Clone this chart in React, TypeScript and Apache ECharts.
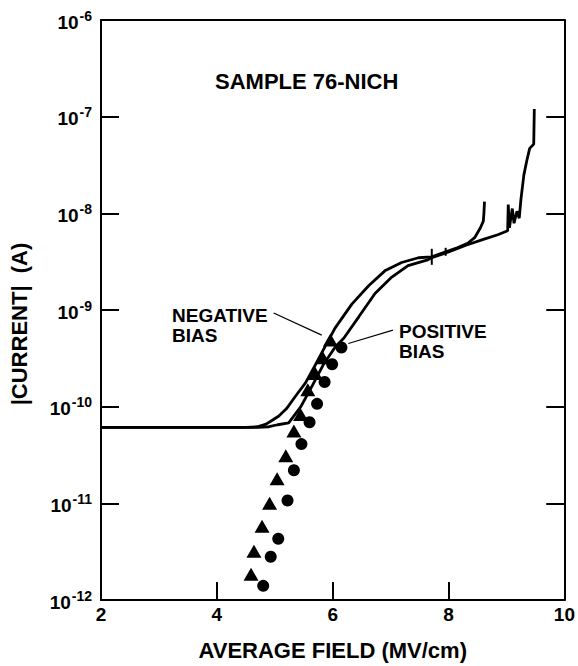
import React, { useEffect, useRef } from "react";
import * as echarts from "echarts";

// |current| (A) versus average field (MV/cm)
const negativeBiasCurve: [number, number][] = [
  [2.0, 6.1e-11], [4.5, 6.1e-11], [4.7, 6.2e-11], [4.85, 6.6e-11], [4.95, 7.2e-11],
  [5.07, 8.0e-11], [5.2, 9.5e-11], [5.36, 1.29e-10], [5.53, 1.76e-10], [5.7, 2.7e-10],
  [5.87, 4.2e-10], [6.04, 6.5e-10], [6.33, 1.15e-9], [6.62, 1.78e-9], [6.9, 2.54e-9],
  [7.19, 3.1e-9], [7.48, 3.47e-9], [7.71, 3.55e-9], [7.95, 4.0e-9], [8.15, 4.4e-9],
  [8.33, 4.9e-9], [8.45, 5.6e-9], [8.55, 7.1e-9], [8.6, 8.3e-9], [8.61, 1.0e-8],
  [8.62, 1.32e-8],
];

const positiveBiasCurve: [number, number][] = [
  [2.0, 6.1e-11], [4.7, 6.1e-11], [4.9, 6.2e-11], [5.05, 6.5e-11], [5.24, 6.8e-11],
  [5.45, 1.0e-10], [5.65, 1.66e-10], [5.85, 2.8e-10], [6.05, 4.2e-10], [6.19, 5.1e-10],
  [6.45, 8.5e-10], [6.73, 1.48e-9], [7.02, 2.19e-9], [7.3, 2.88e-9], [7.64, 3.3e-9],
  [7.71, 3.47e-9], [8.0, 3.98e-9], [8.3, 4.68e-9], [8.6, 5.37e-9], [8.85, 6.0e-9],
  [9.02, 6.6e-9], [9.03, 1.23e-8], [9.05, 7.1e-9], [9.1, 1.12e-8], [9.13, 7.9e-9],
  [9.18, 1.05e-8], [9.22, 8.9e-9], [9.25, 1.41e-8], [9.3, 2.5e-8], [9.35, 3.5e-8],
  [9.4, 4.7e-8], [9.47, 5.2e-8], [9.48, 1.2e-7],
];

const negativeBiasPoints: [number, number][] = [
  [5.96, 4.9e-10], [5.83, 3.2e-10], [5.7, 2.2e-10], [5.57, 1.5e-10], [5.445, 8.3e-11],
  [5.33, 5.6e-11], [5.19, 3.1e-11], [5.04, 1.8e-11], [4.91, 1.0e-11], [4.78, 5.8e-12],
  [4.64, 3.2e-12], [4.59, 1.85e-12],
];

const positiveBiasPoints: [number, number][] = [
  [6.15, 4.1e-10], [5.99, 2.75e-10], [5.86, 1.8e-10], [5.73, 1.07e-10], [5.6, 6.9e-11],
  [5.46, 4.1e-11], [5.33, 2.2e-11], [5.22, 1.07e-11], [5.06, 4.3e-12], [4.93, 2.8e-12],
  [4.8, 1.4e-12],
];

const curveMarks: [number, number][] = [[7.71, 3.55e-9], [7.95, 4.0e-9]];

const negativeArrow: [number, number][] = [[4.98, 9.3e-10], [5.81, 5.5e-10]];
const positiveArrow: [number, number][] = [[7.04, 6.2e-10], [6.27, 4.5e-10]];

const xTicks = [2, 4, 6, 8, 10];
const yTicks = [1e-12, 1e-11, 1e-10, 1e-9, 1e-8, 1e-7, 1e-6];
const yMin = 1e-12;
const yMax = 1e-6;

const FONT = "'Liberation Sans', Arial, sans-serif";

// layout (pixels)
const GRID_LEFT = 101;
const GRID_RIGHT = 10;
const GRID_TOP = 20;
const GRID_BOTTOM = 60;
const WIDTH = 578;
const HEIGHT = 666;
const TICK_LEN = 18;

export default function App() {
  const ref = useRef<HTMLDivElement>(null);

  useEffect(() => {
    if (!ref.current) return;
    const chart = echarts.init(ref.current, undefined, { renderer: "svg" });
    const axisLine = () => ({ show: true, lineStyle: { color: "#000", width: 2 } });
    const tick = () => ({
      show: true,
      inside: true,
      length: TICK_LEN,
      lineStyle: { color: "#000", width: 2 },
    });

    // tick length expressed in each axis' data units
    const xMin = xTicks[0];
    const xMax = xTicks[xTicks.length - 1];
    const plotW = WIDTH - GRID_LEFT - GRID_RIGHT;
    const plotH = HEIGHT - GRID_TOP - GRID_BOTTOM;
    const dx = ((xMax - xMin) * TICK_LEN) / plotW;
    const decades = Math.log10(yMax) - Math.log10(yMin);
    const yTickTop = yMin * Math.pow(10, (decades * TICK_LEN) / plotH);
    const tickStyle = { lineStyle: { color: "#000", width: 2, type: "solid" } };
    const tickLines: any[] = [
      ...xTicks.slice(1, -1).map((v) => [
        { coord: [v, yMin], ...tickStyle },
        { coord: [v, yTickTop] },
      ]),
      ...yTicks.slice(1, -1).map((v) => [
        { coord: [xMin, v], ...tickStyle },
        { coord: [xMin + dx, v] },
      ]),
      ...yTicks.slice(1, -1).map((v) => [
        { coord: [xMax, v], ...tickStyle },
        { coord: [xMax - dx, v] },
      ]),
    ];

    chart.setOption({
      animation: false,
      backgroundColor: "#fff",
      grid: { left: GRID_LEFT, top: GRID_TOP, right: GRID_RIGHT, bottom: GRID_BOTTOM },
      xAxis: [
        {
          type: "value",
          min: xMin,
          max: xMax,
          interval: 2,
          axisLine: axisLine(),
          axisTick: tick(),
          axisLabel: {
            margin: 5,
            color: "#000",
            fontSize: 19,
            fontWeight: "bold",
            fontFamily: FONT,
          },
          splitLine: { show: false },
          name: "AVERAGE FIELD (MV/cm)",
          nameLocation: "middle",
          nameGap: 39,
          nameTextStyle: { color: "#000", fontSize: 22, fontWeight: "bold", fontFamily: FONT },
        },
        {
          type: "value",
          position: "top",
          min: xMin,
          max: xMax,
          interval: 2,
          axisLine: axisLine(),
          axisTick: { show: false },
          axisLabel: { show: false },
          splitLine: { show: false },
        },
      ],
      yAxis: [
        {
          type: "log",
          logBase: 10,
          min: yMin,
          max: yMax,
          splitNumber: 6,
          axisLine: axisLine(),
          axisTick: tick(),
          splitLine: { show: false },
          axisLabel: {
            margin: 9,
            color: "#000",
            formatter: (v: number) => `{b|10}{s|${Math.round(Math.log10(v))}}`,
            rich: {
              b: { fontSize: 19, fontFamily: FONT, fontWeight: "bold", color: "#000", padding: [4, 0, 0, 0] },
              s: { fontSize: 14, fontFamily: FONT, color: "#000", fontWeight: "bold", verticalAlign: "top", padding: [0, 0, 0, 1] },
            },
          },
        },
        {
          type: "log",
          logBase: 10,
          position: "right",
          min: yMin,
          max: yMax,
          splitNumber: 6,
          axisLine: axisLine(),
          axisTick: tick(),
          axisLabel: { show: false },
          splitLine: { show: false },
        },
      ],
      series: [
        {
          type: "line",
          name: "NEGATIVE BIAS",
          data: negativeBiasCurve,
          showSymbol: false,
          symbol: "none",
          lineStyle: { color: "#000", width: 2.8 },
          z: 3,
        },
        {
          type: "line",
          name: "POSITIVE BIAS",
          data: positiveBiasCurve,
          showSymbol: false,
          symbol: "none",
          lineStyle: { color: "#000", width: 2.8 },
          z: 3,
        },
        {
          type: "scatter",
          data: negativeBiasPoints,
          symbol: "triangle",
          symbolSize: [15, 13],
          itemStyle: { color: "#000", opacity: 1 },
          z: 4,
          markLine: {
            silent: true,
            symbol: ["none", "arrow"],
            symbolSize: [0, 9],
            label: { show: false },
            lineStyle: { color: "#000", width: 1.2, type: "solid", opacity: 1 },
            data: [
              [{ coord: negativeArrow[0] }, { coord: negativeArrow[1] }],
              [{ coord: positiveArrow[0] }, { coord: positiveArrow[1] }],
            ],
          },
        },
        {
          type: "scatter",
          data: positiveBiasPoints,
          symbol: "circle",
          symbolSize: 12,
          itemStyle: { color: "#000", opacity: 1 },
          z: 4,
          markLine: {
            silent: true,
            symbol: ["none", "none"],
            label: { show: false },
            lineStyle: { color: "#000", width: 2, type: "solid", opacity: 1 },
            data: tickLines,
          },
        },
        {
          type: "scatter",
          data: curveMarks,
          symbol: "rect",
          symbolSize: (_v: any, p: any) => (p.dataIndex === 0 ? [2, 16] : [2, 8]),
          itemStyle: { color: "#000", opacity: 1 },
          z: 4,
        },
      ],
      graphic: [
        {
          type: "text",
          left: 215,
          top: 70,
          style: { text: "SAMPLE 76-NICH", fontSize: 22, fontWeight: "bold", fontFamily: FONT, fill: "#000" },
        },
        {
          type: "text",
          left: 172,
          top: 305,
          style: { text: "NEGATIVE\nBIAS", fontSize: 19, lineHeight: 20, fontWeight: "bold", fontFamily: FONT, fill: "#000" },
        },
        {
          type: "text",
          left: 399,
          top: 321,
          style: { text: "POSITIVE\nBIAS", fontSize: 19, lineHeight: 20, fontWeight: "bold", fontFamily: FONT, fill: "#000" },
        },
        {
          type: "text",
          x: 19,
          y: 324,
          rotation: Math.PI / 2,
          style: {
            text: "|CURRENT|  (A)",
            fontSize: 22,
            fontWeight: "bold",
            fontFamily: FONT,
            fill: "#000",
            align: "center",
            verticalAlign: "middle",
          },
        },
      ],
    });

    return () => chart.dispose();
  }, []);

  return (
    <div
      ref={ref}
      style={{ position: "absolute", left: 0, top: 0, width: WIDTH, height: HEIGHT, background: "#fff" }}
    />
  );
}
